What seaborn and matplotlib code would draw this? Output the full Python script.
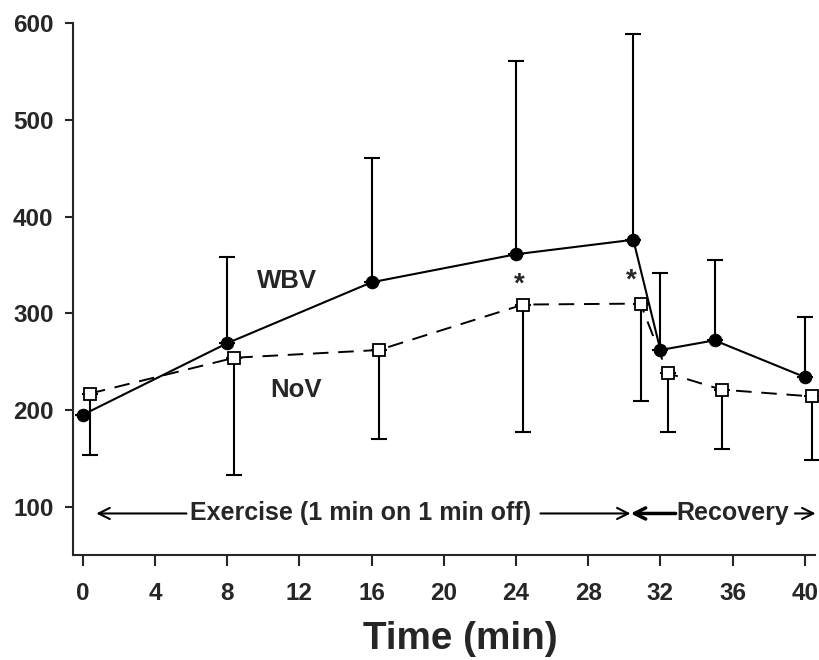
import matplotlib
matplotlib.use("Agg")
import matplotlib.pyplot as plt
import seaborn as sns
import pandas as pd
import numpy as np

# ---- data ----
wbv_time = [0, 8, 16, 24, 30.5, 32, 35, 40]
wbv_mean = [195, 269, 332, 361, 376, 262, 272, 234]
wbv_upper = [195, 358, 461, 561, 589, 342, 355, 296]

nov_time = [0.4, 8.4, 16.4, 24.4, 30.9, 32.4, 35.4, 40.4]
nov_mean = [217, 254, 262, 309, 310, 238, 221, 214]
nov_lower = [153, 133, 170, 177, 209, 177, 160, 148]

x_ticks = [0, 4, 8, 12, 16, 20, 24, 28, 32, 36, 40]
y_ticks = [100, 200, 300, 400, 500, 600]
sig_times = [24.2, 30.4]
sig_values = [330, 334]

sns.set_style("ticks")
plt.rcParams['font.family'] = ['Liberation Sans', 'DejaVu Sans']
plt.rcParams['font.weight'] = 'bold'

fig = plt.figure(figsize=(8.2, 6.6), dpi=100)
ax = fig.add_axes([0.089, 0.159, 0.905, 0.806])

df = pd.concat([
    pd.DataFrame({"time": wbv_time, "value": wbv_mean, "group": "WBV"}),
    pd.DataFrame({"time": nov_time, "value": nov_mean, "group": "NoV"}),
])

# error bars
w = np.array(wbv_mean); wu = np.array(wbv_upper)
n = np.array(nov_mean); nl = np.array(nov_lower)
eb1 = ax.errorbar(wbv_time, wbv_mean, yerr=[np.zeros_like(w), wu - w], fmt='none',
                  ecolor='black', elinewidth=1.5, capsize=6, capthick=1.5, zorder=2)
eb2 = ax.errorbar(nov_time, nov_mean, yerr=[n - nl, np.zeros_like(n)], fmt='none',
                  ecolor='black', elinewidth=1.5, capsize=6, capthick=1.5, zorder=2)
for eb in (eb1, eb2):
    for art in eb.get_children():
        art.set_clip_on(False)

sns.lineplot(data=df[df.group == "WBV"], x="time", y="value", ax=ax, color='black',
             lw=1.5, marker='o', markersize=9, markerfacecolor='black',
             markeredgecolor='black', zorder=4, sort=False, clip_on=False)
sns.lineplot(data=df[df.group == "NoV"], x="time", y="value", ax=ax, color='black',
             lw=1.4, marker='s', markersize=9, markerfacecolor='white',
             markeredgecolor='black', markeredgewidth=1.3, zorder=3, sort=False,
             linestyle=(0, (8, 5)), clip_on=False)

ax.set_xlim(-0.54, 40.57)
ax.set_ylim(50, 600)
ax.set_xticks(x_ticks)
ax.set_yticks(y_ticks)
ax.set_xticklabels([str(t) for t in x_ticks], fontsize=17.5, fontweight='bold')
ax.set_yticklabels([str(t) for t in y_ticks], fontsize=17.5, fontweight='bold')
ax.tick_params(axis='x', direction='out', length=8, width=1.5, pad=11.5)
ax.tick_params(axis='y', direction='out', length=6, width=1.5, pad=8)
ax.spines['top'].set_visible(False)
ax.spines['right'].set_visible(False)
ax.spines['left'].set_linewidth(1.5)
ax.spines['bottom'].set_linewidth(1.5)
ax.set_xlabel("Time (min)", fontsize=27.8, fontweight='bold')
ax.xaxis.set_label_coords(0.5216, -0.124)
ax.set_ylabel("")

ax.text(11.3, 333, "WBV", fontsize=18.5, fontweight='bold', ha='center', va='center')
ax.text(11.8, 221, "NoV", fontsize=18.5, fontweight='bold', ha='center', va='center')
for t, v in zip(sig_times, sig_values):
    ax.text(t, v, "*", fontsize=20, fontweight='bold', ha='center', va='center')

ay = 93
ap = dict(arrowstyle='->', color='black', lw=1.5, mutation_scale=20)
ax.annotate("", xy=(0.6, ay), xytext=(5.9, ay), arrowprops=ap, annotation_clip=False)
ax.text(15.4, ay, "Exercise (1 min on 1 min off)", fontsize=18, fontweight='bold',
        ha='center', va='center')
ax.annotate("", xy=(30.5, ay), xytext=(25.2, ay), arrowprops=ap, annotation_clip=False)
ax.annotate("", xy=(30.2, ay), xytext=(33.0, ay), arrowprops=dict(ap, lw=2.5),
            annotation_clip=False)
ax.text(36.0, ay, "Recovery", fontsize=18, fontweight='bold', ha='center', va='center')
ax.annotate("", xy=(40.75, ay), xytext=(39.3, ay), arrowprops=ap, annotation_clip=False)

fig.savefig("out.png", dpi=100)
